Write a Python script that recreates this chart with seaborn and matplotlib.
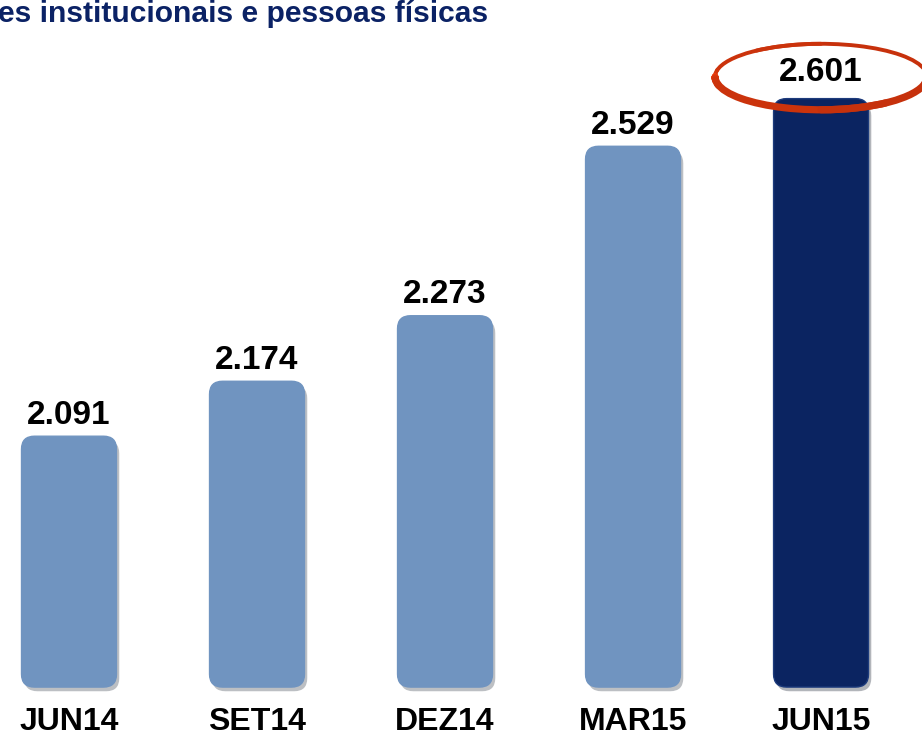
import numpy as np
import seaborn as sns
import matplotlib.pyplot as plt
import matplotlib.patheffects as pe
from matplotlib.patches import FancyBboxPatch, Arc
from matplotlib.colors import to_rgb

# data
periods = ['JUN14', 'SET14', 'DEZ14', 'MAR15', 'JUN15']
values = [2091, 2174, 2273, 2529, 2601]
value_labels = ['2.091', '2.174', '2.273', '2.529', '2.601']
title_text = 'es institucionais e pessoas físicas'

light_blue = '#7094c0'
navy = '#0b2461'
colors = [light_blue] * 4 + [navy]
baseline = 1712

sns.set_style('white')
plt.rcParams['font.family'] = ['Liberation Sans', 'DejaVu Sans']

fig = plt.figure(figsize=(9.22, 7.38), dpi=100)
ax = fig.add_axes([0, 0.069, 1, 0.931])

sns.barplot(x=periods, y=values, hue=periods, palette=colors, legend=False,
            width=0.505, ax=ax)
ax.set_xlim(-0.367, 4.537)
ax.set_ylim(baseline, 2750)

# pixels per data unit, used for rounding the corners
p0 = ax.transData.transform((0, baseline))
p1 = ax.transData.transform((1, baseline + 1))
px_x = p1[0] - p0[0]
px_y = p1[1] - p0[1]
radius = 13 / px_x
aspect = px_x / px_y

bars = list(ax.patches)
for bar, col in zip(bars, colors):
    x, w = bar.get_x(), bar.get_width()
    h = bar.get_height()
    bar.remove()
    fb = FancyBboxPatch((x, baseline), w, h - baseline,
                        boxstyle=f'round,pad=0,rounding_size={radius}',
                        mutation_aspect=aspect,
                        facecolor=col, edgecolor='#1d3b7c' if col == navy else col,
                        linewidth=1, clip_on=False, zorder=2)
    fb.set_path_effects([pe.SimplePatchShadow(offset=(2, -3), alpha=0.3), pe.Normal()])
    ax.add_patch(fb)

for i, (v, lab) in enumerate(zip(values, value_labels)):
    off = 8 if i == len(values) - 1 else 4
    ax.annotate(lab, (i, v), xytext=(0, off), textcoords='offset points',
                ha='center', va='bottom', fontsize=24, fontweight='bold',
                color='black', zorder=5)

# red ellipse around the last value
cx = len(values) - 1
cy = values[-1] + 33
ew = 212 / px_x
eh = 66 / px_y
c_left = np.array(to_rgb('#ff4510'))
c_right = np.array(to_rgb('#6e1206'))
n = 120
for k in range(n):
    a0 = 360 * k / n
    a1 = 360 * (k + 1) / n + 0.5
    mid = np.radians((a0 + a1) / 2)
    t = (1 - np.cos(mid)) / 2
    t = min(1.0, t * 1.25)
    col = c_right + (c_left - c_right) * t
    lw = 4.0 - 1.2 * np.sin(mid)
    ax.add_patch(Arc((cx, cy), ew, eh, theta1=a0, theta2=a1, color=col,
                     linewidth=lw, capstyle='round', joinstyle='round',
                     clip_on=False, zorder=4))

ax.set_xlabel('')
ax.set_ylabel('')
ax.set_yticks([])
ax.tick_params(axis='x', length=0, pad=14)
for t in ax.get_xticklabels():
    t.set_fontsize(23)
    t.set_fontweight('bold')
    t.set_color('black')
sns.despine(ax=ax, left=True, bottom=True)

fig.text(-0.002, 0.970, title_text, fontsize=21.6, fontweight='bold',
         color='#0b2265', ha='left', va='baseline')

fig.savefig('out.png', dpi=100)
